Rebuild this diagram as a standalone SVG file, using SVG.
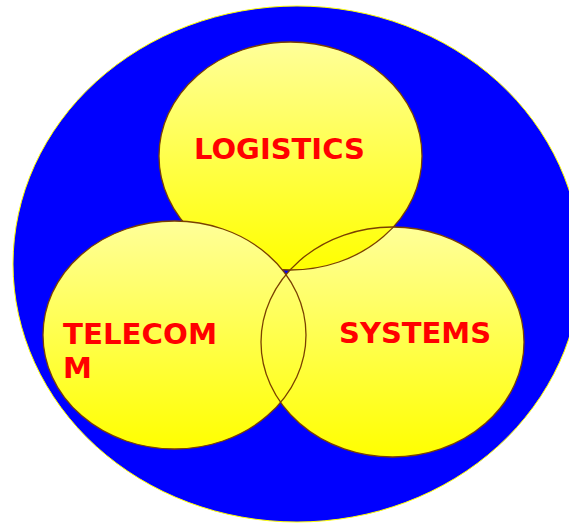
<svg xmlns="http://www.w3.org/2000/svg" width="569" height="523" viewBox="0 0 569 523">
  <defs>
    <linearGradient id="yg" x1="0" y1="0" x2="0" y2="1">
      <stop offset="0" stop-color="#ffff99"/>
      <stop offset="1" stop-color="#ffff00"/>
    </linearGradient>
    <style>
      .bubble { fill: url(#yg); stroke: #7a4000; stroke-width: 1.3; }
      .edge { fill: none; stroke: #7a4000; stroke-width: 1.3; }
      .lbl { font-family: "DejaVu Sans", "Liberation Sans", sans-serif; font-weight: bold; font-size: 29px; fill: #ff0000; }
    </style>
  </defs>
  <rect width="569" height="523" fill="#ffffff"/>
  <g id="outer">
    <ellipse cx="297" cy="264" rx="284" ry="258" fill="#0000ff" stroke="#ffff00" stroke-width="1"/>
  </g>
  <g id="systems">
    <ellipse cx="392.5" cy="342" rx="131.5" ry="115" fill="url(#yg)"/>
  </g>
  <g id="logistics">
    <ellipse class="bubble" cx="290.5" cy="156" rx="131.5" ry="114"/>
    <text class="lbl" x="194" y="159">LOGISTICS</text>
  </g>
  <g id="telecom">
    <ellipse class="bubble" cx="174.5" cy="335" rx="131.5" ry="114"/>
    <text class="lbl" x="63" y="344" textLength="154" lengthAdjust="spacingAndGlyphs">TELECOM</text>
    <text class="lbl" x="63" y="378">M</text>
  </g>
  <g id="systems-outline">
    <ellipse class="edge" cx="392.5" cy="342" rx="131.5" ry="115"/>
    <text class="lbl" x="339" y="343">SYSTEMS</text>
  </g>
</svg>
